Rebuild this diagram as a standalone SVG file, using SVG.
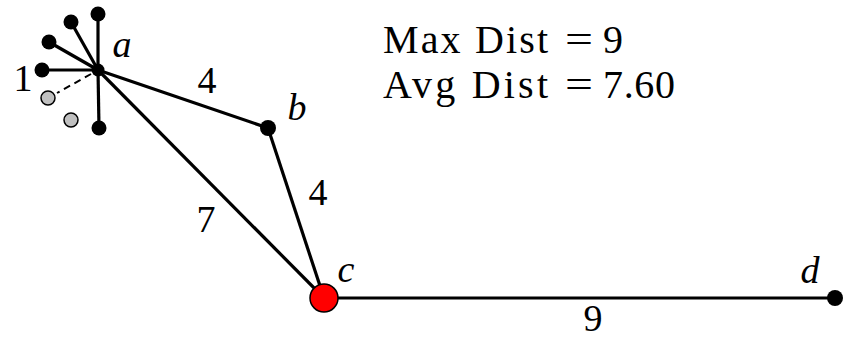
<svg xmlns="http://www.w3.org/2000/svg" width="851" height="338" viewBox="0 0 851 338">
<style>
.e{stroke:#000;stroke-width:3.2;fill:none}
.d{stroke:#000;stroke-width:2;stroke-dasharray:7,5;fill:none}
.n{fill:#000}
.g{fill:#c0c0c0;stroke:#000;stroke-width:1.5}
.t{font-family:"Liberation Serif","Times New Roman",serif;font-size:38px;fill:#000}
.h{font-size:40px}
.i{font-style:italic;text-anchor:middle}
.m{text-anchor:middle}
</style>
<rect width="851" height="338" fill="#fff"/>
<g id="connectors">
<line class="e" x1="98" y1="70" x2="98" y2="14"/>
<line class="e" x1="98" y1="70" x2="71" y2="22"/>
<line class="e" x1="98" y1="70" x2="49" y2="42"/>
<line class="e" x1="98" y1="70" x2="42" y2="70"/>
<line class="e" x1="98" y1="70" x2="99" y2="128"/>
<line class="d" x1="91" y1="74" x2="57" y2="93"/>
<line class="e" x1="98" y1="70" x2="268" y2="128"/>
<line class="e" x1="98" y1="70" x2="324" y2="298"/>
<line class="e" x1="268" y1="128" x2="324" y2="298"/>
<line class="e" x1="324" y1="298" x2="835" y2="298"/>
</g>
<g id="leaf1"><circle class="n" cx="98" cy="14" r="7.5"/></g>
<g id="leaf2"><circle class="n" cx="71" cy="22" r="7.5"/></g>
<g id="leaf3"><circle class="n" cx="49" cy="42" r="7.5"/></g>
<g id="leaf4"><circle class="n" cx="42" cy="70" r="7.5"/><text class="t m" x="23" y="91">1</text></g>
<g id="leaf5"><circle class="n" cx="99" cy="128" r="7.5"/></g>
<g id="gray1"><circle class="g" cx="48" cy="98" r="7"/></g>
<g id="gray2"><circle class="g" cx="71" cy="120" r="7"/></g>
<g id="a"><circle class="n" cx="98" cy="70" r="6.5"/><text class="t i" x="122" y="57">a</text></g>
<g id="b"><circle class="n" cx="268" cy="128" r="8"/><text class="t i" x="297" y="120">b</text></g>
<g id="c"><circle cx="324" cy="298" r="14" fill="#ff0000" stroke="#000" stroke-width="1.5"/><text class="t i" x="346" y="282">c</text></g>
<g id="d"><circle class="n" cx="835" cy="298" r="8"/><text class="t i" x="810" y="283">d</text></g>
<g id="labels">
<text class="t m" x="207" y="93">4</text>
<text class="t m" x="318" y="205">4</text>
<text class="t m" x="206" y="232">7</text>
<text class="t m" x="593" y="331">9</text>
<text class="t h" y="53"><tspan x="383" textLength="165" lengthAdjust="spacing">Max Dist</tspan><tspan x="565" textLength="28" lengthAdjust="spacingAndGlyphs">=</tspan><tspan x="603">9</tspan></text>
<text class="t h" y="98"><tspan x="383" textLength="165" lengthAdjust="spacing">Avg Dist</tspan><tspan x="565" textLength="28" lengthAdjust="spacingAndGlyphs">=</tspan><tspan x="603" textLength="72" lengthAdjust="spacing">7.60</tspan></text>
</g>
</svg>
